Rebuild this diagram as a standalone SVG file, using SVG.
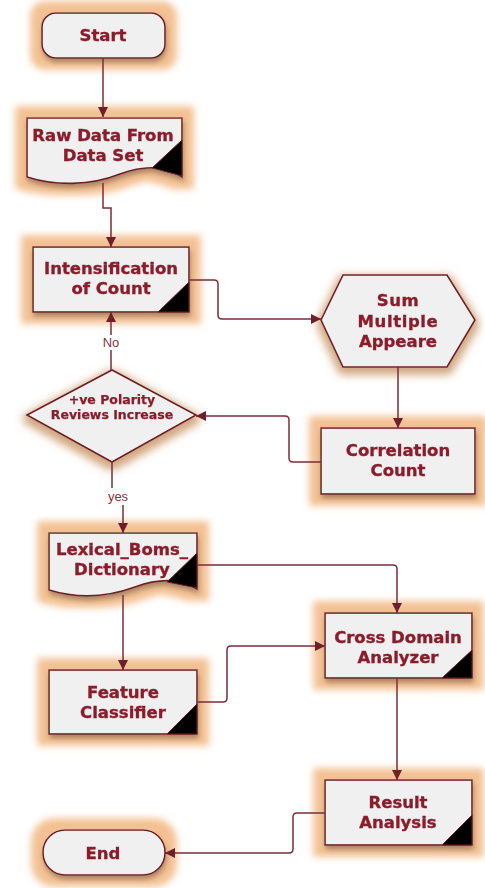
<svg xmlns="http://www.w3.org/2000/svg" width="485" height="888" viewBox="0 0 485 888">
<defs>
<style>
.shape{fill:#f1f0f0;stroke:#6e1f2b;stroke-width:1.6}
.tri{fill:#000;stroke:#6e1f2b;stroke-width:1}
.t{font-family:"DejaVu Sans","Liberation Sans",sans-serif;font-weight:bold;font-size:16.5px;fill:#8b1c2c;stroke:#8b1c2c;stroke-width:0.35;text-anchor:middle}
.ts{font-size:12.5px;stroke-width:0.25}
.sp{letter-spacing:0.6px}
.lbl{font-family:"Liberation Sans","DejaVu Sans",sans-serif;font-size:13px;fill:#8b3344;text-anchor:middle}
.c{fill:none;stroke:#7a2e3a;stroke-width:1.5}
</style>
<marker id="ah" viewBox="0 0 10 10" refX="10" refY="5" markerWidth="11" markerHeight="10" markerUnits="userSpaceOnUse" orient="auto">
<path d="M0,0 L10,5 L0,10 Z" fill="#6e1f2b"/>
</marker>
<filter id="glow" x="-30%" y="-40%" width="160%" height="190%">
<feMorphology in="SourceAlpha" operator="dilate" radius="11" result="d"/>
<feGaussianBlur in="d" stdDeviation="3.5" result="b"/>
<feFlood flood-color="#f3c193"/>
<feComposite in2="b" operator="in" result="g"/>
<feGaussianBlur in="SourceAlpha" stdDeviation="2.5" result="s"/>
<feOffset in="s" dx="1" dy="4" result="so"/>
<feFlood flood-color="#5a2a10" flood-opacity="0.6"/>
<feComposite in2="so" operator="in" result="sh"/>
<feMerge><feMergeNode in="g"/><feMergeNode in="sh"/><feMergeNode in="SourceGraphic"/></feMerge>
</filter>
<filter id="soft" x="-30%" y="-30%" width="160%" height="170%">
<feMorphology in="SourceAlpha" operator="dilate" radius="3" result="d"/>
<feGaussianBlur in="d" stdDeviation="4" result="s"/>
<feOffset in="s" dx="0" dy="4" result="so"/>
<feFlood flood-color="#b8763a" flood-opacity="0.65"/>
<feComposite in2="so" operator="in" result="sh"/>
<feMerge><feMergeNode in="sh"/><feMergeNode in="SourceGraphic"/></feMerge>
</filter>
</defs>

<g id="start" filter="url(#glow)">
<rect class="shape" x="42" y="13" width="123" height="45" rx="14"/>
<text class="t" x="103" y="41">Start</text>
</g>

<g id="rawdata" filter="url(#glow)">
<path class="shape" d="M27,118 H182 V177 C165,165 145,165 120,174 C90,186 55,186 27,177 Z"/>
<polygon class="tri" points="182,140 182,176 152,168"/>
<text class="t" x="103" y="141">Raw Data From</text>
<text class="t" x="103" y="161">Data Set</text>
</g>

<g id="intensification" filter="url(#glow)">
<rect class="shape" x="33" y="247" width="156" height="65"/>
<polygon class="tri" points="189,282 189,312 158,312"/>
<text class="t" x="111" y="274">Intensification</text>
<text class="t" x="111" y="294">of Count</text>
</g>

<g id="sum" filter="url(#soft)">
<polygon class="shape" points="321,320 343,275 447,275 475,320 447,367 343,367"/>
<text class="t sp" x="398" y="306">Sum</text>
<text class="t sp" x="398" y="327">Multiple</text>
<text class="t" x="398" y="347">Appeare</text>
</g>

<g id="correlation" filter="url(#glow)">
<rect class="shape" x="321" y="428" width="154" height="66"/>
<text class="t" x="398" y="456">Correlation</text>
<text class="t" x="398" y="476">Count</text>
</g>

<g id="polarity" filter="url(#soft)">
<polygon class="shape" points="27,415 112,370 196,415 112,462"/>
<text class="t ts" x="112" y="404">+ve Polarity</text>
<text class="t ts" x="112" y="419">Reviews Increase</text>
</g>

<g id="lexical" filter="url(#glow)">
<path class="shape" d="M49,533 H197 V589 C180,578 160,578 135,587 C105,598 75,598 49,590 Z"/>
<polygon class="tri" points="197,553 197,588 167,582"/>
<text class="t" x="122" y="555">Lexical_Boms_</text>
<text class="t" x="122" y="575">Dictionary</text>
</g>

<g id="crossdomain" filter="url(#glow)">
<rect class="shape" x="325" y="613" width="147" height="65"/>
<polygon class="tri" points="472,650 472,678 442,678"/>
<text class="t" x="398" y="643">Cross Domain</text>
<text class="t" x="398" y="663">Analyzer</text>
</g>

<g id="feature" filter="url(#glow)">
<rect class="shape" x="49" y="670" width="148" height="64"/>
<polygon class="tri" points="197,704 197,734 167,734"/>
<text class="t" x="123" y="698">Feature</text>
<text class="t" x="123" y="718">Classifier</text>
</g>

<g id="result" filter="url(#glow)">
<rect class="shape" x="325" y="780" width="147" height="65"/>
<polygon class="tri" points="472,815 472,845 442,845"/>
<text class="t" x="398" y="808">Result</text>
<text class="t" x="398" y="828">Analysis</text>
</g>

<g id="end" filter="url(#glow)">
<rect class="shape" x="43" y="830" width="122" height="45" rx="22"/>
<text class="t" x="103" y="859">End</text>
</g>

<g id="connectors">
<path class="c" d="M103,58 V117" marker-end="url(#ah)"/>
<path class="c" d="M103,183 V208 H111 V247" marker-end="url(#ah)"/>
<path class="c" d="M189,280 H214 Q218,280 218,284 V315 Q218,319 222,319 H321" marker-end="url(#ah)"/>
<path class="c" d="M398,367 V428" marker-end="url(#ah)"/>
<path class="c" d="M321,462 H293 Q289,462 289,458 V420 Q289,416 285,416 H196" marker-end="url(#ah)"/>
<path class="c" d="M111,370 V350"/>
<path class="c" d="M111,335 V312" marker-end="url(#ah)"/>
<path class="c" d="M112,462 V488"/>
<path class="c" d="M123,505 V533" marker-end="url(#ah)"/>
<path class="c" d="M197,565 H393 Q397,565 397,569 V613" marker-end="url(#ah)"/>
<path class="c" d="M123,595 V670" marker-end="url(#ah)"/>
<path class="c" d="M197,702 H223 Q227,702 227,698 V650 Q227,646 231,646 H325" marker-end="url(#ah)"/>
<path class="c" d="M397,678 V780" marker-end="url(#ah)"/>
<path class="c" d="M325,813 H297 Q293,813 293,817 V849 Q293,853 289,853 H165" marker-end="url(#ah)"/>
<text class="lbl" x="111" y="347">No</text>
<text class="lbl" x="118" y="501">yes</text>
</g>
</svg>
